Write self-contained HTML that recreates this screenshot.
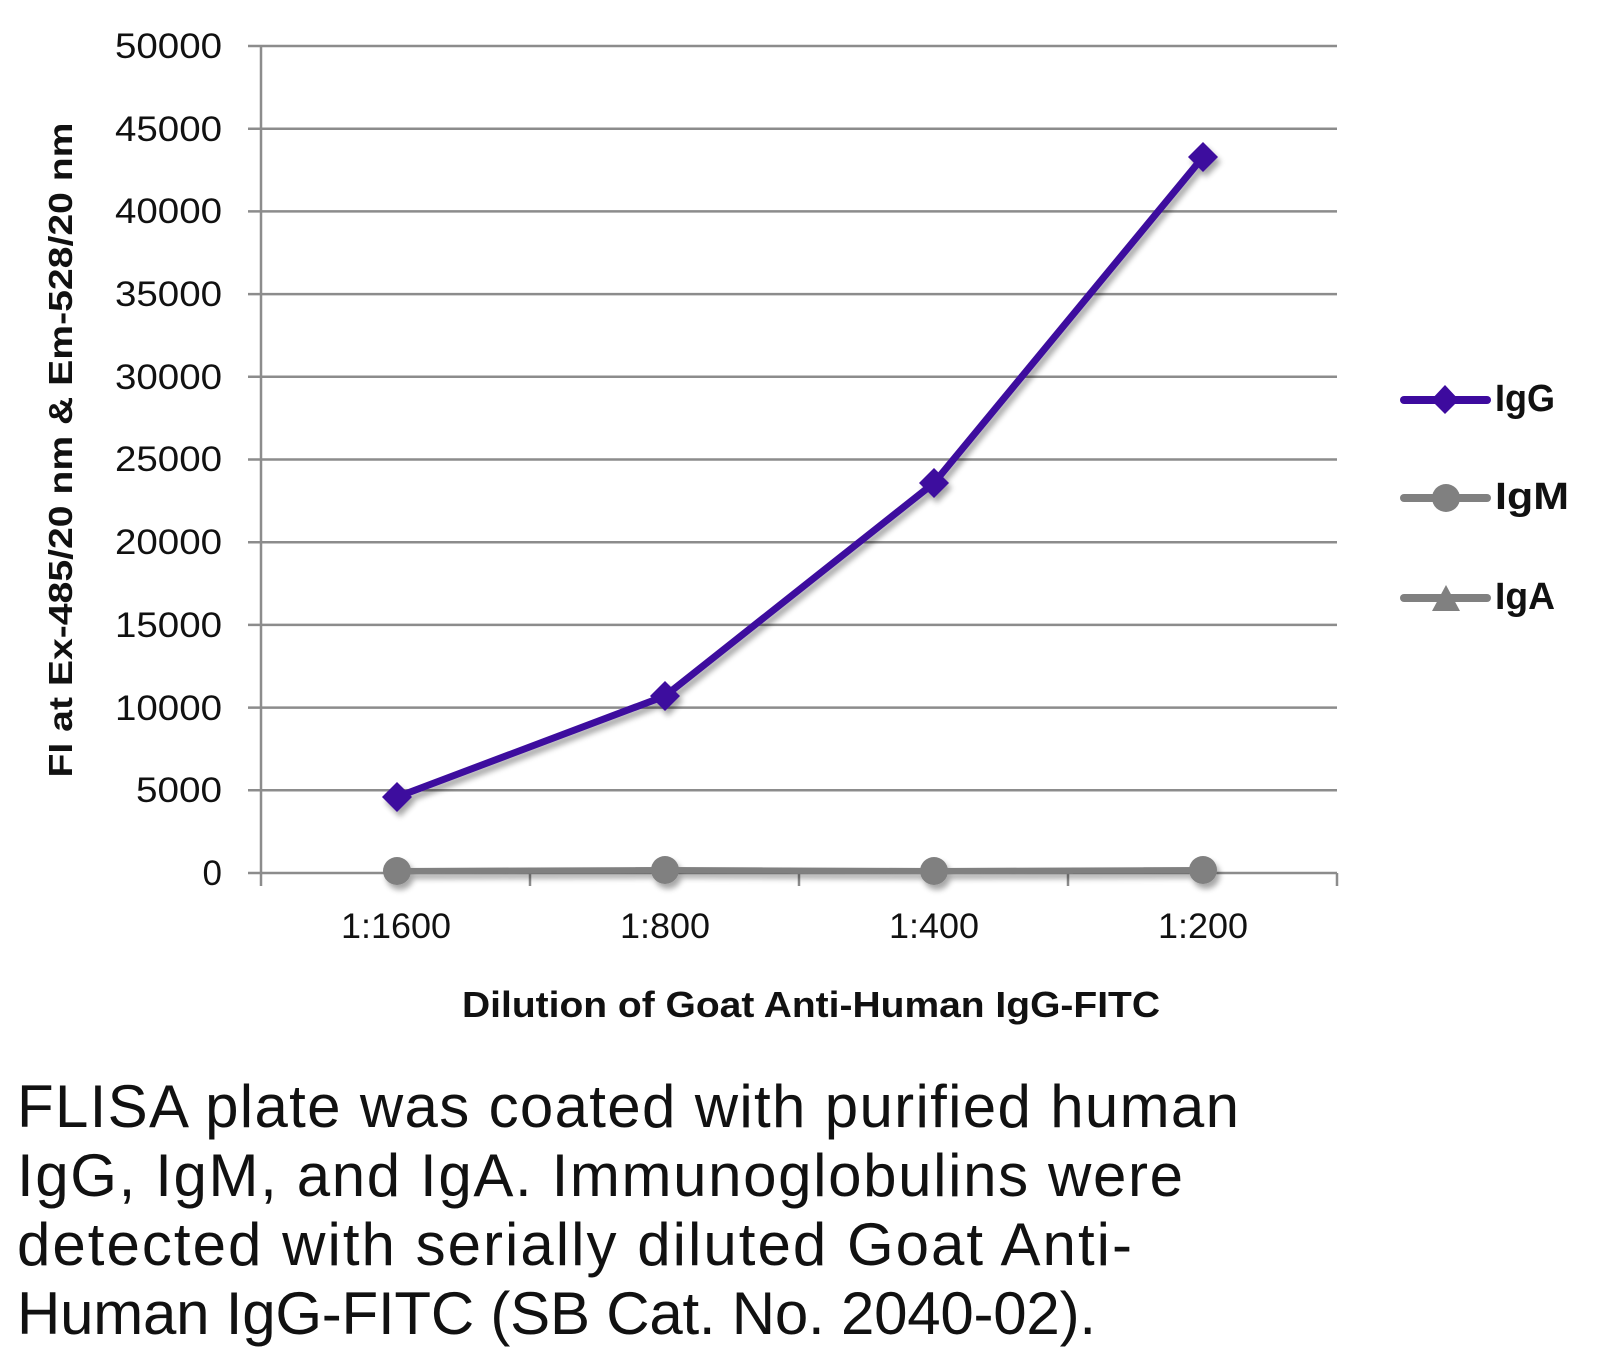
<!DOCTYPE html>
<html><head><meta charset="utf-8"><style>html,body{margin:0;padding:0;background:#fff}svg{display:block}</style></head>
<body>
<svg width="1604" height="1362" viewBox="0 0 1604 1362" xmlns="http://www.w3.org/2000/svg" font-family="Liberation Sans, sans-serif">
<defs><filter id="sh" x="-10%" y="-10%" width="130%" height="130%"><feGaussianBlur in="SourceAlpha" stdDeviation="3"/><feOffset dx="3" dy="5"/><feComponentTransfer><feFuncA type="linear" slope="0.35"/></feComponentTransfer><feMerge><feMergeNode/><feMergeNode in="SourceGraphic"/></feMerge></filter></defs>
<g stroke="#8c8c8c" stroke-width="2.5">
<line x1="248" y1="46" x2="1337" y2="46"/>
<line x1="248" y1="128.7" x2="1337" y2="128.7"/>
<line x1="248" y1="211.4" x2="1337" y2="211.4"/>
<line x1="248" y1="294.1" x2="1337" y2="294.1"/>
<line x1="248" y1="376.8" x2="1337" y2="376.8"/>
<line x1="248" y1="459.5" x2="1337" y2="459.5"/>
<line x1="248" y1="542.2" x2="1337" y2="542.2"/>
<line x1="248" y1="624.9" x2="1337" y2="624.9"/>
<line x1="248" y1="707.6" x2="1337" y2="707.6"/>
<line x1="248" y1="790.3" x2="1337" y2="790.3"/>
<line x1="248" y1="873" x2="1337" y2="873"/>
<line x1="261" y1="46" x2="261" y2="886"/>
<line x1="530" y1="873" x2="530" y2="886"/>
<line x1="799" y1="873" x2="799" y2="886"/>
<line x1="1068" y1="873" x2="1068" y2="886"/>
<line x1="1337" y1="873" x2="1337" y2="886"/>
</g>
<g font-size="35" fill="#111" text-anchor="end" lengthAdjust="spacingAndGlyphs">
<text x="222" y="58" textLength="107" lengthAdjust="spacingAndGlyphs">50000</text>
<text x="222" y="141" textLength="107" lengthAdjust="spacingAndGlyphs">45000</text>
<text x="222" y="223" textLength="107" lengthAdjust="spacingAndGlyphs">40000</text>
<text x="222" y="306" textLength="107" lengthAdjust="spacingAndGlyphs">35000</text>
<text x="222" y="389" textLength="107" lengthAdjust="spacingAndGlyphs">30000</text>
<text x="222" y="471" textLength="107" lengthAdjust="spacingAndGlyphs">25000</text>
<text x="222" y="554" textLength="107" lengthAdjust="spacingAndGlyphs">20000</text>
<text x="222" y="637" textLength="107" lengthAdjust="spacingAndGlyphs">15000</text>
<text x="222" y="720" textLength="107" lengthAdjust="spacingAndGlyphs">10000</text>
<text x="222" y="802" textLength="86" lengthAdjust="spacingAndGlyphs">5000</text>
<text x="222" y="885">0</text>
</g>
<g font-size="35" fill="#111" text-anchor="middle">
<text x="396" y="938" textLength="110" lengthAdjust="spacingAndGlyphs">1:1600</text>
<text x="665" y="938" textLength="90" lengthAdjust="spacingAndGlyphs">1:800</text>
<text x="934" y="938" textLength="90" lengthAdjust="spacingAndGlyphs">1:400</text>
<text x="1203" y="938" textLength="90" lengthAdjust="spacingAndGlyphs">1:200</text>
</g>
<text x="811" y="1017" font-size="36" font-weight="bold" text-anchor="middle" textLength="698" lengthAdjust="spacingAndGlyphs" fill="#111">Dilution of Goat Anti-Human IgG-FITC</text>
<text transform="translate(72,450) rotate(-90)" font-size="33" font-weight="bold" text-anchor="middle" textLength="655" lengthAdjust="spacingAndGlyphs" fill="#111">FI at Ex-485/20 nm &amp; Em-528/20 nm</text>
<g filter="url(#sh)">
<polyline points="397,871 665,870 934,871 1203,870" fill="none" stroke="#808080" stroke-width="6"/>
<g fill="#808080"><circle cx="397" cy="871" r="14"/><circle cx="665" cy="870" r="14"/><circle cx="934" cy="871" r="14"/><circle cx="1203" cy="870" r="14"/></g>
<polyline points="397,797 665,696 934,483 1203,157" fill="none" stroke="#3d0a9e" stroke-width="7" stroke-linejoin="round"/>
<g fill="#3d0a9e">
<polygon points="397,782 412,797 397,812 382,797"/>
<polygon points="665,681 680,696 665,711 650,696"/>
<polygon points="934,468 949,483 934,498 919,483"/>
<polygon points="1203,142 1218,157 1203,172 1188,157"/>
</g>
</g>
<g stroke-linecap="round" stroke-width="8">
<line x1="1404" y1="400" x2="1487" y2="400" stroke="#3d0a9e"/>
<line x1="1404" y1="498" x2="1487" y2="498" stroke="#808080"/>
<line x1="1404" y1="598" x2="1487" y2="598" stroke="#808080"/>
</g>
<polygon points="1445,385 1459,400 1445,414 1431,400" fill="#3d0a9e"/>
<circle cx="1446" cy="498" r="14" fill="#808080"/>
<polygon points="1446,585 1460,611 1432,611" fill="#808080"/>
<g font-size="38" font-weight="bold" fill="#111">
<text x="1495" y="411" textLength="60" lengthAdjust="spacingAndGlyphs">IgG</text>
<text x="1495" y="509" textLength="74" lengthAdjust="spacingAndGlyphs">IgM</text>
<text x="1495" y="609" textLength="60" lengthAdjust="spacingAndGlyphs">IgA</text>
</g>
<g font-size="60" fill="#111">
<text x="17" y="1127" textLength="1222">FLISA plate was coated with purified human</text>
<text x="17" y="1196" textLength="1166">IgG, IgM, and IgA.  Immunoglobulins were</text>
<text x="17" y="1265" textLength="1115">detected with serially diluted Goat Anti-</text>
<text x="17" y="1334" textLength="1079">Human IgG-FITC (SB Cat. No. 2040-02).</text>
</g>
</svg>
</body></html>
